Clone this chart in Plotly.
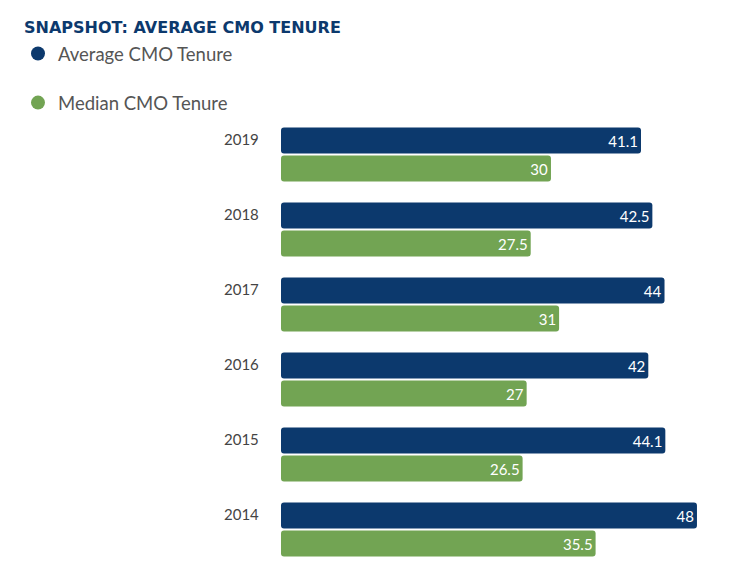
import plotly.graph_objects as go

years = ["2019", "2018", "2017", "2016", "2015", "2014"]
average_tenure = [41.1, 42.5, 44, 42, 44.1, 48]
median_tenure = [30, 27.5, 31, 27, 26.5, 35.5]
series_names = ["Average CMO Tenure", "Median CMO Tenure"]

BLUE = "#0c396d"
GREEN = "#72a453"
OFFSET = 3.29  # bars start slightly left of zero in the reference

W, H = 735, 568
ML, MR, MT, MB = 281, 10, 117, 1
pw = W - ML - MR
ph = H - MT - MB

fig = go.Figure()
for vals, name, col in [(average_tenure, series_names[0], BLUE), (median_tenure, series_names[1], GREEN)]:
    fig.add_trace(go.Bar(
        y=years, x=[v + OFFSET for v in vals], base=-OFFSET, orientation="h",
        marker=dict(color=col, line=dict(width=0)),
        text=[f"{v:g}" for v in vals], textposition="inside", insidetextanchor="end",
        textfont=dict(color="white", size=15, family="Lato"),
        name=name, showlegend=False, hoverinfo="skip",
    ))
    fig.add_trace(go.Scatter(
        x=[None], y=[None], mode="markers", name=name, legendgroup=name,
        marker=dict(color=col, size=14, symbol="circle"), showlegend=True,
    ))

for i, yr in enumerate(years):
    fig.add_annotation(x=0, y=i, xref="paper", yref="y", text=yr, showarrow=False,
                       xanchor="right", yanchor="middle", xshift=-20, yshift=16,
                       font=dict(family="Lato", size=15, color="#444444"))

fig.update_layout(
    width=W, height=H,
    margin=dict(l=ML, r=MR, t=MT, b=MB),
    paper_bgcolor="white", plot_bgcolor="white",
    barmode="group", bargap=0.2533, bargroupgap=0.0714, barcornerradius=3,
    title=dict(text="SNAPSHOT: AVERAGE CMO TENURE", xref="container", yref="container",
               x=24 / W, xanchor="left", y=1 - 27 / H, yanchor="middle",
               font=dict(family="DejaVu Sans", size=16, weight=700, color="#0c396d")),
    legend=dict(x=(18 - ML) / pw, xanchor="left", y=1 + (MT - 35) / ph, yanchor="top",
                font=dict(family="Lato", size=18.5, color="#555555"),
                traceorder="grouped", tracegroupgap=22, bgcolor="rgba(0,0,0,0)",
                itemclick=False),
    xaxis=dict(range=[-OFFSET, (pw / 8.11) - OFFSET], visible=False, fixedrange=True),
    yaxis=dict(type="category", categoryorder="array", categoryarray=years,
               range=[5.5, -0.5], showticklabels=False, showgrid=False, zeroline=False,
               fixedrange=True),
    showlegend=True,
)

fig.write_html("out.html", config={"displayModeBar": False},
               post_script="document.body.style.margin='0';document.body.style.overflow='hidden';")
